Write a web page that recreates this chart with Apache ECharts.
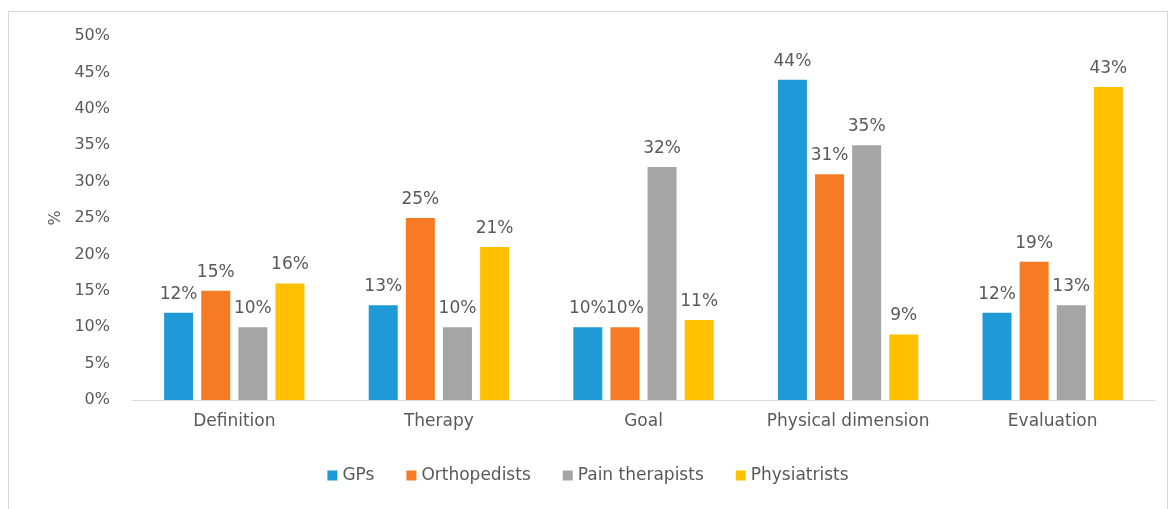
<!DOCTYPE html>
<html>
<head>
<meta charset="utf-8">
<script src="https://cdn.jsdelivr.net/npm/echarts@6/dist/echarts.min.js"></script>
<style>
  html, body { margin: 0; padding: 0; background: #fff; }
  #frame { position: absolute; left: 8px; top: 11px; width: 1160px; height: 510px; border: 1px solid #d9d9d9; box-sizing: border-box; }
  #chart { width: 1176px; height: 509px; }
</style>
</head>
<body>
<div id="frame"></div>
<div id="chart"></div>
<script>
// categories and series values (%)
const categories = ['Definition', 'Therapy', 'Goal', 'Physical dimension', 'Evaluation'];
const gps = [12, 13, 10, 44, 12];
const orthopedists = [15, 25, 10, 31, 19];
const painTherapists = [10, 10, 32, 35, 13];
const physiatrists = [16, 21, 11, 9, 43];
const seriesNames = ['GPs', 'Orthopedists', 'Pain therapists', 'Physiatrists'];
const colors = ['#1f9ad6', '#f77b24', '#a5a5a5', '#ffc000'];

const font = '"DejaVu Sans", "Noto Sans", sans-serif';

function makeSeries(name, data, i) {
  return {
    name: name,
    type: 'bar',
    data: data,
    barWidth: 29,
    barGap: '28%',
    itemStyle: { color: colors[i] },
    label: {
      show: true,
      position: 'top',
      distance: 10,
      formatter: '{c}%',
      color: '#595959',
      fontSize: 17,
      fontFamily: font
    }
  };
}

const chart = echarts.init(document.getElementById('chart'));
chart.setOption({
  animation: false,
  grid: { left: 132, right: 21, top: 36, bottom: 109 },
  legend: {
    data: seriesNames,
    bottom: 20,
    left: 'center',
    itemWidth: 10,
    itemHeight: 10,
    itemGap: 32,
    icon: 'rect',
    textStyle: { color: '#595959', fontSize: 17, fontFamily: font }
  },
  xAxis: {
    type: 'category',
    data: categories,
    axisLine: { lineStyle: { color: '#d9d9d9' } },
    axisTick: { show: false },
    axisLabel: { interval: 0, color: '#595959', fontSize: 17, fontFamily: font, margin: 13 }
  },
  yAxis: {
    type: 'value',
    min: 0,
    max: 50,
    interval: 5,
    name: '%',
    nameLocation: 'middle',
    nameGap: 68,
    nameRotate: 90,
    nameTextStyle: { color: '#595959', fontSize: 16, fontFamily: font },
    splitLine: { show: false },
    axisLine: { show: false },
    axisTick: { show: false },
    axisLabel: { formatter: '{value}%', color: '#595959', fontSize: 16, fontFamily: font, margin: 22 }
  },
  series: [
    makeSeries(seriesNames[0], gps, 0),
    makeSeries(seriesNames[1], orthopedists, 1),
    makeSeries(seriesNames[2], painTherapists, 2),
    makeSeries(seriesNames[3], physiatrists, 3)
  ]
});
</script>
</body>
</html>
